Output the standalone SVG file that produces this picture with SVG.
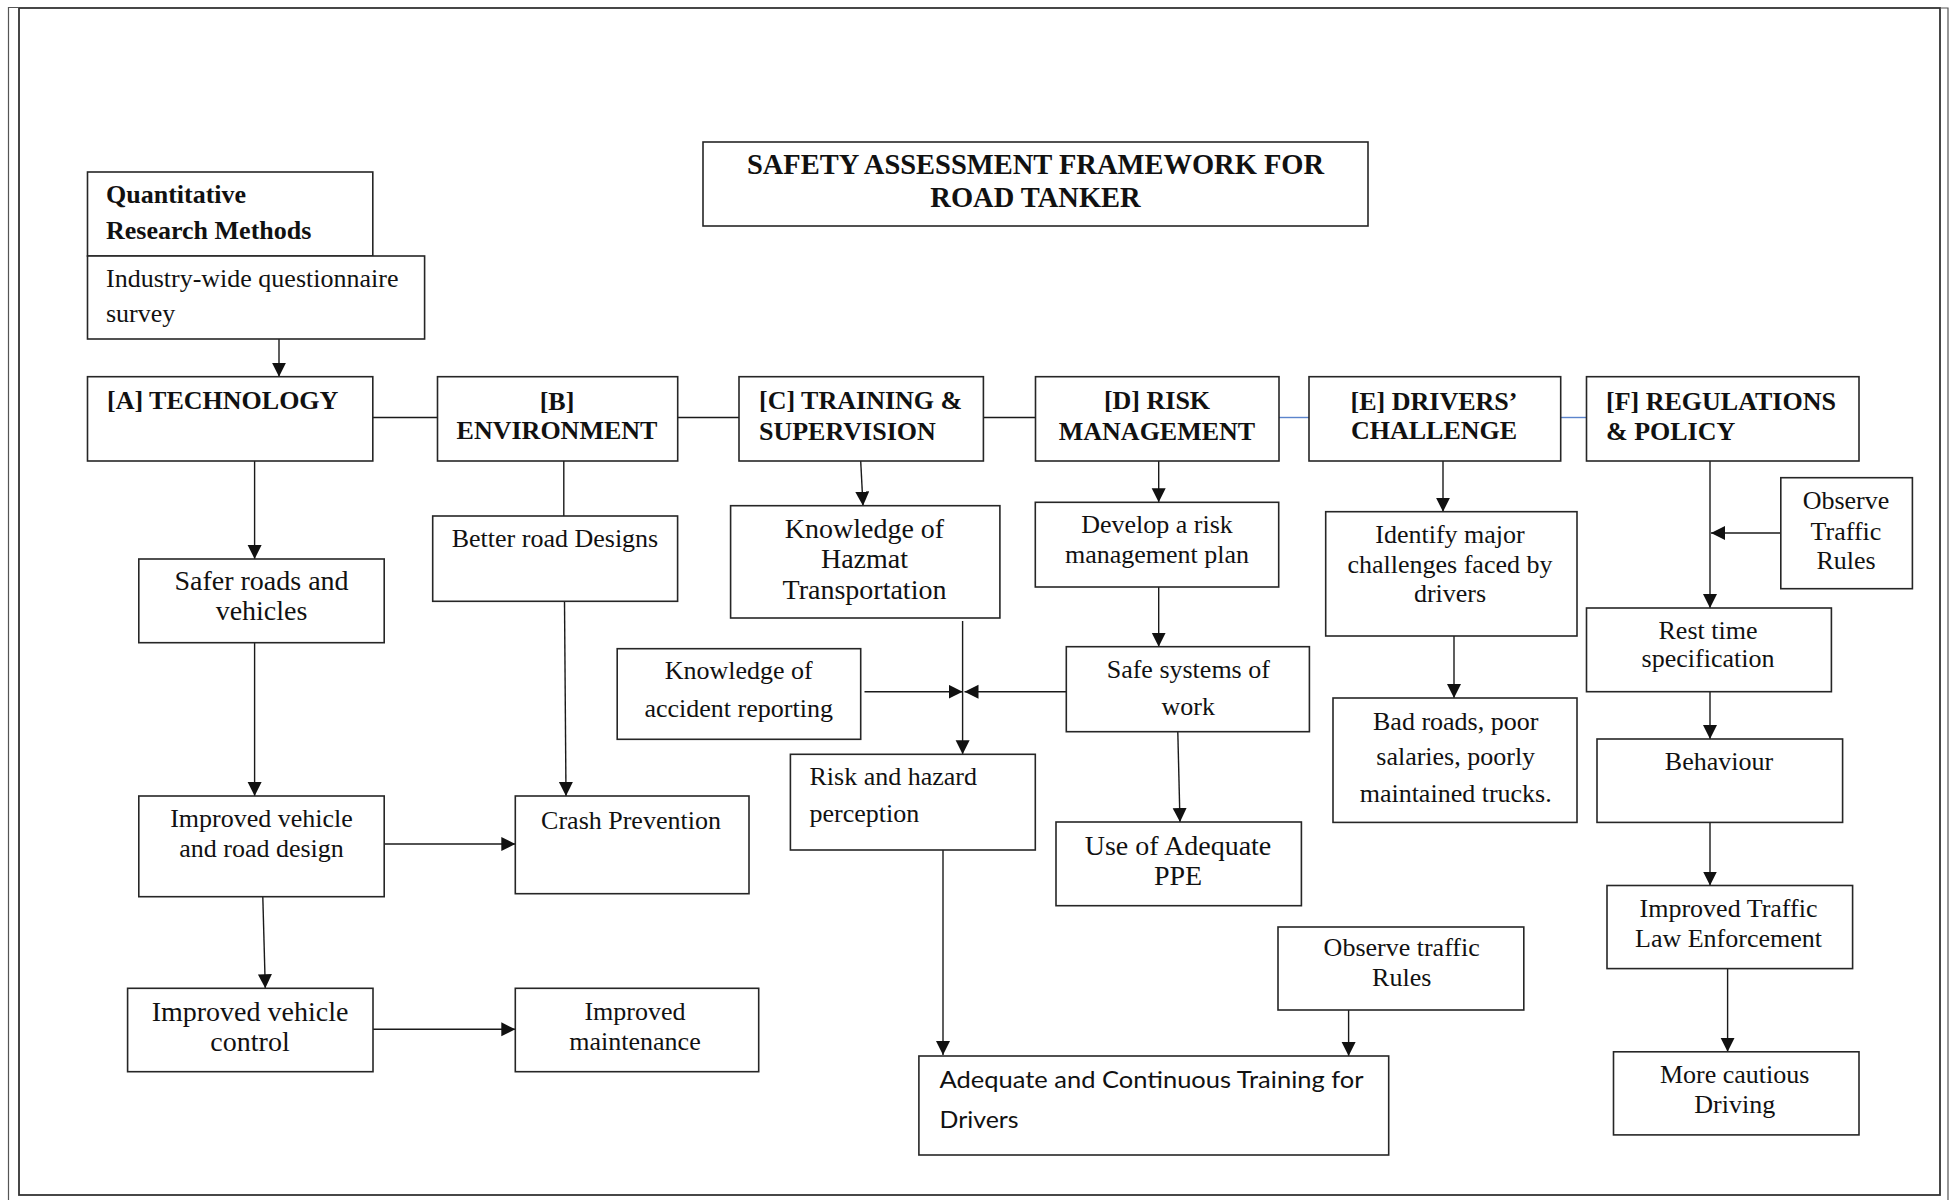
<svg xmlns="http://www.w3.org/2000/svg" width="1951" height="1200" viewBox="0 0 1951 1200">
<defs>
<style>
.frame{fill:none;stroke:#333;stroke-width:1.8}
.edge{fill:none;stroke:#555;stroke-width:1.2}
.box{fill:#fff;stroke:#262626;stroke-width:1.6}
.t{font-family:"Liberation Serif","Times New Roman",serif;font-size:26px;fill:#111}
.b{font-weight:bold}
.c{text-anchor:middle}
.big{font-size:28px}
.ttl{font-size:28.5px}
.sans{font-family:Lato,"Liberation Sans",Arial,sans-serif;font-size:23px;fill:#111}
.ln{fill:none;stroke:#1a1a1a;stroke-width:1.4}
.blue{stroke:#5b84cc}
.arr{marker-end:url(#ah)}
</style>
<marker id="ah" markerUnits="userSpaceOnUse" markerWidth="15" markerHeight="15" refX="14" refY="7" orient="auto">
<path d="M0,0 L14,7 L0,14 Z" fill="#111"/>
</marker>
</defs>
<rect width="1951" height="1200" fill="#fff"/>
<g id="frame">
<rect class="frame" x="19" y="8" width="1921" height="1187"/>
<polyline class="edge" points="8.5,1200 8.5,7.5 19,7.5"/>
<polyline class="edge" points="1940,8 1948,8 1948,1200"/>
</g>
<g id="connectors">
<line class="ln arr" x1="279" y1="339" x2="279" y2="376.7"/>
<line class="ln" x1="372.8" y1="417.5" x2="437.5" y2="417.5"/>
<line class="ln" x1="677.7" y1="417.5" x2="739" y2="417.5"/>
<line class="ln" x1="983.4" y1="417.5" x2="1035.5" y2="417.5"/>
<line class="ln blue" x1="1279" y1="417.5" x2="1309" y2="417.5"/>
<line class="ln blue" x1="1560.7" y1="417.5" x2="1586.5" y2="417.5"/>
<line class="ln arr" x1="254.6" y1="461" x2="254.6" y2="559"/>
<line class="ln arr" x1="254.6" y1="642.7" x2="254.6" y2="796"/>
<line class="ln arr" x1="384.2" y1="844" x2="515.3" y2="844"/>
<line class="ln arr" x1="262.8" y1="896.7" x2="265.3" y2="988.3"/>
<line class="ln arr" x1="373" y1="1029.3" x2="515.3" y2="1029.3"/>
<line class="ln" x1="563.8" y1="461" x2="563.8" y2="516"/>
<line class="ln arr" x1="564.5" y1="601.3" x2="566" y2="796"/>
<line class="ln arr" x1="860.7" y1="461" x2="863" y2="505.7"/>
<line class="ln arr" x1="962.6" y1="621" x2="962.6" y2="754.3"/>
<line class="ln arr" x1="864.5" y1="691.7" x2="962.6" y2="691.7"/>
<line class="ln arr" x1="1066.3" y1="691.7" x2="964.5" y2="691.7"/>
<line class="ln arr" x1="943" y1="850" x2="943" y2="1055"/>
<line class="ln arr" x1="1158.7" y1="461" x2="1158.7" y2="502.3"/>
<line class="ln arr" x1="1158.7" y1="587" x2="1158.7" y2="646.7"/>
<line class="ln arr" x1="1177.8" y1="731.7" x2="1180" y2="822"/>
<line class="ln arr" x1="1348.6" y1="1010" x2="1348.6" y2="1056"/>
<line class="ln arr" x1="1443" y1="461" x2="1443" y2="511.7"/>
<line class="ln arr" x1="1454" y1="636" x2="1454" y2="698"/>
<line class="ln arr" x1="1710" y1="461" x2="1710" y2="608"/>
<line class="ln arr" x1="1780.8" y1="533" x2="1711" y2="533"/>
<line class="ln arr" x1="1710" y1="691.7" x2="1710" y2="739"/>
<line class="ln arr" x1="1710" y1="822.4" x2="1710" y2="885.5"/>
<line class="ln arr" x1="1727.6" y1="968.6" x2="1727.6" y2="1051.8"/>
</g>
<g id="title">
<rect class="box" x="703" y="142" width="665" height="84"/>
<text class="t b c ttl" x="1035.5" y="174">SAFETY ASSESSMENT FRAMEWORK FOR</text>
<text class="t b c ttl" x="1035.5" y="207">ROAD TANKER</text>
</g>
<g id="quant">
<rect class="box" x="87.5" y="172" width="285.3" height="84"/>
<text class="t b" x="106" y="203">Quantitative</text>
<text class="t b" x="106" y="239">Research Methods</text>
</g>
<g id="survey">
<rect class="box" x="87.5" y="256" width="337.1" height="83"/>
<text class="t" x="106" y="287">Industry-wide questionnaire</text>
<text class="t" x="106" y="322">survey</text>
</g>
<g id="tech">
<rect class="box" x="87.5" y="376.7" width="285.3" height="84.3"/>
<text class="t b" x="107" y="409">[A] TECHNOLOGY</text>
</g>
<g id="env">
<rect class="box" x="437.5" y="376.7" width="240.2" height="84.3"/>
<text class="t b c" x="557" y="410">[B]</text>
<text class="t b c" x="557" y="439">ENVIRONMENT</text>
</g>
<g id="training">
<rect class="box" x="739" y="376.7" width="244.4" height="84.3"/>
<text class="t b" x="759" y="409">[C] TRAINING &amp;</text>
<text class="t b" x="759" y="440">SUPERVISION</text>
</g>
<g id="risk">
<rect class="box" x="1035.5" y="376.7" width="243.5" height="84.3"/>
<text class="t b c" x="1157" y="409">[D] RISK</text>
<text class="t b c" x="1157" y="440">MANAGEMENT</text>
</g>
<g id="drivers">
<rect class="box" x="1309" y="376.7" width="251.7" height="84.3"/>
<text class="t b c" x="1434" y="410">[E] DRIVERS’</text>
<text class="t b c" x="1434" y="439">CHALLENGE</text>
</g>
<g id="regulations">
<rect class="box" x="1586.5" y="376.7" width="272.5" height="84.3"/>
<text class="t b" x="1606" y="410">[F] REGULATIONS</text>
<text class="t b" x="1606" y="440">&amp; POLICY</text>
</g>
<g id="safer">
<rect class="box" x="138.8" y="559" width="245.4" height="83.7"/>
<text class="t c big" x="261.5" y="590">Safer roads and</text>
<text class="t c big" x="261.5" y="620">vehicles</text>
</g>
<g id="design">
<rect class="box" x="138.8" y="796" width="245.4" height="100.7"/>
<text class="t c" x="261.5" y="827.3">Improved vehicle</text>
<text class="t c" x="261.5" y="857.3">and road design</text>
</g>
<g id="control">
<rect class="box" x="127.6" y="988.3" width="245.4" height="83.4"/>
<text class="t c big" x="250" y="1021">Improved vehicle</text>
<text class="t c big" x="250" y="1051">control</text>
</g>
<g id="maintenance">
<rect class="box" x="515.3" y="988.3" width="243.4" height="83.4"/>
<text class="t c" x="635" y="1020">Improved</text>
<text class="t c" x="635" y="1050">maintenance</text>
</g>
<g id="better">
<rect class="box" x="432.7" y="516" width="244.9" height="85.3"/>
<text class="t c" x="555" y="546.7">Better road Designs</text>
</g>
<g id="crash">
<rect class="box" x="515.3" y="796" width="233.7" height="97.7"/>
<text class="t c" x="631" y="829.3">Crash Prevention</text>
</g>
<g id="hazmat">
<rect class="box" x="730.6" y="505.7" width="269.3" height="112.3"/>
<text class="t c big" x="864.5" y="538">Knowledge of</text>
<text class="t c big" x="864.5" y="568">Hazmat</text>
<text class="t c big" x="864.5" y="599">Transportation</text>
</g>
<g id="accident">
<rect class="box" x="617.2" y="648.7" width="243.5" height="90.6"/>
<text class="t c" x="738.7" y="679.3">Knowledge of</text>
<text class="t c" x="738.7" y="716.7">accident reporting</text>
</g>
<g id="perception">
<rect class="box" x="790.4" y="754.3" width="244.9" height="95.7"/>
<text class="t" x="809.5" y="785">Risk and hazard</text>
<text class="t" x="809.5" y="821.7">perception</text>
</g>
<g id="plan">
<rect class="box" x="1035.3" y="502.3" width="243.4" height="84.7"/>
<text class="t c" x="1157" y="533">Develop a risk</text>
<text class="t c" x="1157" y="562.7">management  plan</text>
</g>
<g id="safe">
<rect class="box" x="1066.3" y="646.7" width="243.1" height="85"/>
<text class="t c" x="1188.3" y="678">Safe systems  of</text>
<text class="t c" x="1188.3" y="715">work</text>
</g>
<g id="ppe">
<rect class="box" x="1056" y="822" width="245.4" height="83.7"/>
<text class="t c big" x="1178" y="855">Use of Adequate</text>
<text class="t c big" x="1178" y="885">PPE</text>
</g>
<g id="observe-lower">
<rect class="box" x="1278" y="927" width="245.8" height="83"/>
<text class="t c" x="1401.7" y="956">Observe traffic</text>
<text class="t c" x="1401.7" y="986">Rules</text>
</g>
<g id="adequate">
<rect class="box" x="918.9" y="1056" width="469.8" height="99"/>
<text class="sans" x="939.5" y="1088" textLength="424" lengthAdjust="spacingAndGlyphs">Adequate and Continuous Training for</text>
<text class="sans" x="939.5" y="1128" textLength="79" lengthAdjust="spacingAndGlyphs">Drivers</text>
</g>
<g id="identify">
<rect class="box" x="1325.7" y="511.7" width="251.3" height="124.3"/>
<text class="t c" x="1450" y="543">Identify major</text>
<text class="t c" x="1450" y="573">challenges  faced by</text>
<text class="t c" x="1450" y="602">drivers</text>
</g>
<g id="bad">
<rect class="box" x="1333" y="698" width="244" height="124.4"/>
<text class="t c" x="1455.7" y="730">Bad roads, poor</text>
<text class="t c" x="1455.7" y="765">salaries,  poorly</text>
<text class="t c" x="1455.7" y="802">maintained  trucks.</text>
</g>
<g id="observe-upper">
<rect class="box" x="1780.8" y="477.7" width="131.6" height="111"/>
<text class="t c" x="1846" y="509">Observe</text>
<text class="t c" x="1846" y="540">Traffic</text>
<text class="t c" x="1846" y="569">Rules</text>
</g>
<g id="rest">
<rect class="box" x="1586.5" y="608" width="244.9" height="83.7"/>
<text class="t c" x="1708" y="638.5">Rest time</text>
<text class="t c" x="1708" y="667">specification</text>
</g>
<g id="behaviour">
<rect class="box" x="1597" y="739" width="245.6" height="83.4"/>
<text class="t c" x="1719" y="770">Behaviour</text>
</g>
<g id="enforcement">
<rect class="box" x="1607" y="885.5" width="245.6" height="83.1"/>
<text class="t c" x="1728.5" y="917.4">Improved Traffic</text>
<text class="t c" x="1728.5" y="947.2">Law Enforcement</text>
</g>
<g id="cautious">
<rect class="box" x="1613.5" y="1051.8" width="245.5" height="83.1"/>
<text class="t c" x="1734.7" y="1083">More cautious</text>
<text class="t c" x="1734.7" y="1112.8">Driving</text>
</g>
</svg>
